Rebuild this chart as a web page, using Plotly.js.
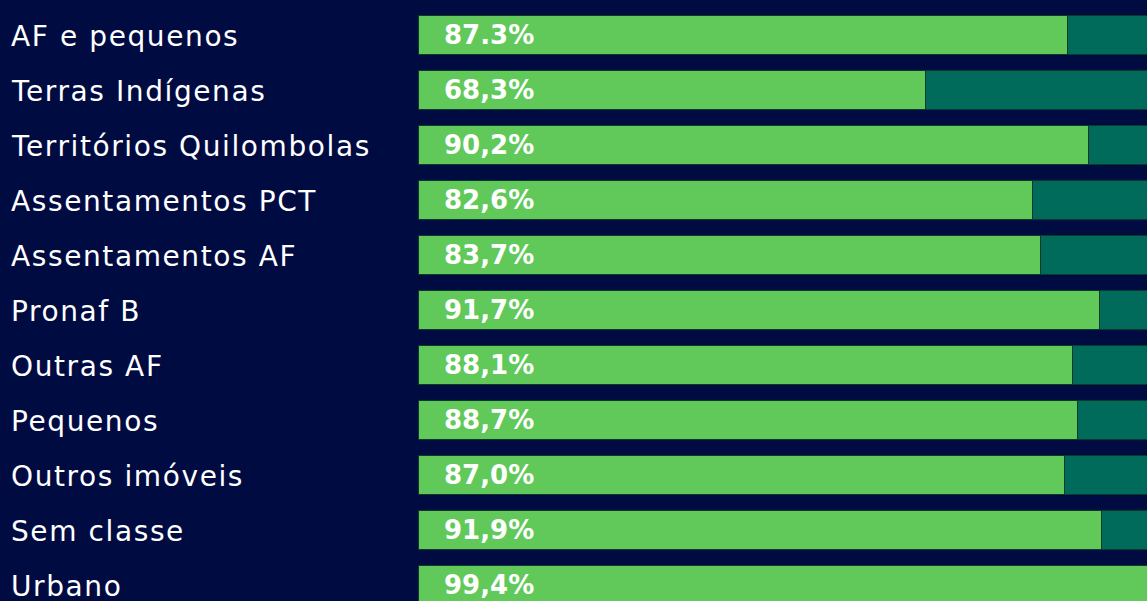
<!DOCTYPE html>
<html>
<head>
<meta charset="utf-8">
<script src="https://cdn.plot.ly/plotly-3.0.1.min.js"></script>
<style>html,body{margin:0;padding:0;background:#000B42;}#chart{width:1147px;height:601px;}</style>
</head>
<body>
<div id="chart"></div>
<script>
const categories = ["AF e pequenos","Terras Indígenas","Territórios Quilombolas","Assentamentos PCT","Assentamentos AF","Pronaf B","Outras AF","Pequenos","Outros imóveis","Sem classe","Urbano"];
const greenValues = [87.3,68.3,90.2,82.6,83.7,91.7,88.1,88.7,87.0,91.9,99.4];
const valueLabels = ["87.3%","68,3%","90,2%","82,6%","83,7%","91,7%","88,1%","88,7%","87,0%","91,9%","99,4%"];
const restValues = greenValues.map(v => +(100 - v).toFixed(1));

const idx = categories.map((c,i)=>i);
const traces = [
  {type:'bar', orientation:'h', y: idx, x: greenValues, marker:{color:'#60C95A', line:{color:'#0B3A2A', width:1}}, hoverinfo:'skip'},
  {type:'bar', orientation:'h', y: idx, x: restValues, marker:{color:'#006B5A', line:{color:'#0B3A2A', width:1}}, hoverinfo:'skip'}
];
const annotations = [];
categories.forEach((c,i)=>{
  annotations.push({xref:'paper', yref:'y', x:-409/729, y:i, text:c, showarrow:false, xanchor:'left', align:'left', yanchor:'middle', yshift:-2, font:{family:'DejaVu Sans, sans-serif', size:28, color:'#FFFFFF'}});
  annotations.push({xref:'x', yref:'y', x:0, y:i, xshift:24, text:'<b>'+valueLabels[i]+'</b>', showarrow:false, xanchor:'left', align:'left', yanchor:'middle', font:{family:'DejaVu Sans, sans-serif', size:26, color:'#FFFFFF'}});
});
const layout = {
  width:1147, height:601,
  margin:{l:418, r:0, t:0, b:0, pad:0},
  paper_bgcolor:'#000B42', plot_bgcolor:'#000B42',
  barmode:'stack', bargap:0.29, showlegend:false,
  xaxis:{range:[0, 98.06], showgrid:false, zeroline:false, showticklabels:false, fixedrange:true},
  yaxis:{range:[10.291,-0.636], showgrid:false, zeroline:false, showticklabels:false, fixedrange:true},
  annotations: annotations
};
Plotly.newPlot('chart', traces, layout, {displayModeBar:false, staticPlot:true}).then(()=>{
  document.querySelectorAll('.annotation-text').forEach(t=>{
    if (categories.indexOf(t.textContent) >= 0) t.style.letterSpacing = '1.6px';
  });
});
</script>
</body>
</html>
